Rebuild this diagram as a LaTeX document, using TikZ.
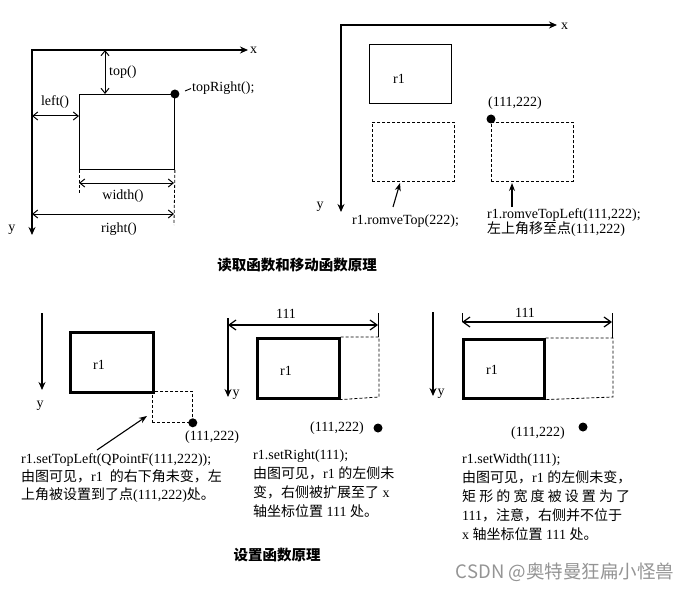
\documentclass[tikz,border=0pt]{standalone}
\usepackage{fontspec}
\setmainfont{Liberation Serif}
\newfontfamily\cjk{Noto Sans CJK SC}
\usetikzlibrary{arrows.meta}
\newcommand\zh[1]{{\cjk #1}}
\begin{document}
\begin{tikzpicture}[x=1pt,y=-1pt,
  axis/.style={line width=1.3pt,-{Stealth[length=8pt,width=7pt]}},
  axis2/.style={line width=1.3pt,{Stealth[length=8pt,width=7pt]}-{Stealth[length=8pt,width=7pt]}},
  dimA/.style={line width=1pt,{Straight Barb[length=5pt,width=8pt]}-{Straight Barb[length=5pt,width=8pt]}},
  dimB/.style={line width=1.2pt,{Straight Barb[length=7pt,width=10pt]}-{Straight Barb[length=7pt,width=10pt]}},
  ptr/.style={line width=1.1pt,-{Stealth[length=8pt,width=6pt]}},
  thin/.style={line width=0.9pt},
  dsh/.style={line width=0.8pt,dash pattern=on 3pt off 2pt},
  box/.style={draw,line width=0.9pt,inner sep=0pt,anchor=north west},
  tbox/.style={draw,line width=2.6pt,inner sep=0pt,anchor=north west},
  dbox/.style={draw,dsh,inner sep=0pt,anchor=north west},
  lbl/.style={font=\fontsize{14}{18}\selectfont,inner sep=0pt},
  para/.style={lbl,align=left,anchor=north west},
  head/.style={font=\fontsize{14.5}{18}\selectfont\bfseries\cjk,inner sep=0pt},
  dot/.style={circle,fill,inner sep=0pt,minimum size=9pt}]
\useasboundingbox (0,0) rectangle (698,591);

% ---------- panel 1 ----------
\coordinate (o1) at (32,50);
\coordinate (x1) at (248,50);
\coordinate (y1) at (32,235);
\draw[axis2,line join=miter] (x1) -- (o1) -- (y1);
\node[lbl,anchor=west] (xl1) at (250,50) {x};
\node[lbl] (yl1) at (12,230) {y};
\node[box,minimum width=95pt,minimum height=75pt] (rA) at (79,94) {};
\coordinate (t1) at (105,50);
\coordinate (t2) at (105,94);
\draw[dimA] (t1) -- (t2);
\node[lbl,anchor=west] (topl) at (109,72) {top()};
\node[dot] (dA) at (rA.north east) {};
\coordinate (ld1) at (185,91);
\coordinate (ld2) at (191,88.5);
\draw[thin] (ld1) -- (ld2);
\node[lbl,anchor=west] (trl) at (192,88) {topRight();};
\coordinate (l1) at (32,116);
\coordinate (l2) at (79,116);
\draw[dimA] (l1) -- (l2);
\node[lbl] (leftl) at (55,102) {left()};
\coordinate (w0) at (79,193);
\coordinate (w3) at (174,225);
\draw[dsh] (rA.south west) -- (w0);
\draw[dsh] (rA.south east) -- (w3);
\coordinate (w1) at (79,183);
\coordinate (w2) at (174,183);
\draw[dimA] (w1) -- (w2);
\node[lbl] (widthl) at (123,196) {width()};
\coordinate (g1) at (32,214);
\coordinate (g2) at (174,214);
\draw[dimA] (g1) -- (g2);
\node[lbl] (rightl) at (119,229) {right()};

% ---------- panel 2 ----------
\coordinate (o2) at (341,25);
\coordinate (x2) at (557,25);
\coordinate (y2) at (341,212);
\draw[axis2,line join=miter] (x2) -- (o2) -- (y2);
\node[lbl,anchor=west] (xl2) at (561,26) {x};
\node[lbl] (yl2) at (320,207) {y};
\node[box,minimum width=82pt,minimum height=59pt] (rB) at (369,44) {};
\node[lbl] (rBl) at (399,79) {r1};
\node[dbox,minimum width=82pt,minimum height=59pt] (dB1) at (372,122) {};
\node[dbox,minimum width=82pt,minimum height=59pt] (dB2) at (491,122) {};
\coordinate (p1) at (393,207);
\coordinate (p2) at (400,183);
\draw[ptr] (p1) -- (p2);
\node[lbl,anchor=west] (mt) at (352,221) {r1.romveTop(222);};
\node[dot] (dB) at ([yshift=3pt]dB2.north west) {};
\node[lbl] (ptl) at (515,103) {(111,222)};
\coordinate (q1) at (512,207);
\coordinate (q2) at (512,183);
\draw[ptr] (q1) -- (q2);
\node[para,font=\fontsize{14}{15}\selectfont] (mtl) at (487,208) {r1.romveTopLeft(111,222);\\\zh{左上角移至点}(111,222)};

\node[head] (h1) at (297,265) {读取函数和移动函数原理};

% ---------- panel 3 ----------
\coordinate (ya3) at (42,313);
\coordinate (yb3) at (42,390);
\draw[axis] (ya3) -- (yb3);
\node[lbl] (yl3) at (40,406) {y};
\node[tbox,minimum width=83pt,minimum height=60pt] (rC) at (69,331) {};
\node[lbl] (rCl) at (99,365) {r1};
\node[dbox,minimum width=40pt,minimum height=31pt] (dC) at (152,391) {};
\node[dot] (dCd) at (dC.south east) {};
\node[lbl,anchor=west] (pCl) at (185,437) {(111,222)};
\coordinate (c1) at (97,450);
\coordinate (c2) at (147,416);
\draw[ptr] (c1) -- (c2);
\node[para] (tC) at (21,453) {r1.setTopLeft(QPointF(111,222));\\\zh{由图可见，}r1 \ \zh{的右下角未变，左}\\\zh{上角被设置到了点}(111,222)\zh{处。}};

% ---------- panel 4 ----------
\coordinate (ya4) at (228,318);
\coordinate (yb4) at (228,397);
\draw[axis] (ya4) -- (yb4);
\node[lbl] (yl4) at (236,395) {y};
\coordinate (m1) at (228,325);
\coordinate (m2) at (378,325);
\draw[dimB] (m1) -- (m2);
\coordinate (k1) at (378,313);
\coordinate (k2) at (378,337);
\draw[thin] (k1) -- (k2);
\node[lbl] (n4) at (286,314) {111};
\node[tbox,minimum width=82pt,minimum height=60pt] (rD) at (256,337) {};
\node[lbl] (rDl) at (286,371) {r1};
\coordinate (e1) at (379,337);
\coordinate (e2) at (379,397);
\draw[dsh] (rD.north east) -- (e1) -- (e2) -- (rD.south east);
\node[lbl] (pDl) at (337,428) {(111,222)};
\node[dot] (dD) at (378,428) {};
\node[para,font=\fontsize{14}{19}\selectfont] (tD) at (253,450) {r1.setRight(111);\\\zh{由图可见，}r1 \zh{的左侧未}\\\zh{变，右侧被扩展至了} x\\\zh{轴坐标位置} 111 \zh{处。}};

% ---------- panel 5 ----------
\coordinate (ya5) at (433,312);
\coordinate (yb5) at (433,396);
\draw[axis] (ya5) -- (yb5);
\node[lbl] (yl5) at (441,394) {y};
\coordinate (s1) at (462,322);
\coordinate (s2) at (612,322);
\draw[dimB] (s1) -- (s2);
\coordinate (u1) at (462,313);
\coordinate (u2) at (612,313);
\coordinate (u3) at (612,338);
\draw[thin] (u1) -- (s1);
\draw[thin] (u2) -- (u3);
\node[lbl] (n5) at (525,313) {111};
\node[tbox,minimum width=81pt,minimum height=59pt] (rE) at (462,338) {};
\node[lbl] (rEl) at (492,370) {r1};
\coordinate (f1) at (613,338);
\coordinate (f2) at (613,397);
\draw[dsh] (rE.north east) -- (f1) -- (f2) -- (rE.south east);
\node[lbl] (pEl) at (538,433) {(111,222)};
\node[dot] (dE) at (583,427) {};
\node[para,font=\fontsize{14}{19}\selectfont] (tE) at (462,454) {r1.setWidth(111);\\\zh{由图可见，}r1 \zh{的左侧未变，}\\\makebox[168pt][s]{\cjk 矩\hfill 形\hfill 的\hfill 宽\hfill 度\hfill 被\hfill 设\hfill 置\hfill 为\hfill 了}\\111\zh{，注意，右侧并不位于}\\x \zh{轴坐标位置} 111 \zh{处。}};

\node[head] (h2) at (277,555) {设置函数原理};

\node[font=\fontsize{18.5}{20}\selectfont\cjk,text=black!42,inner sep=0pt] (wm) at (565,572) {CSDN @奥特曼狂扁小怪兽};
\end{tikzpicture}
\end{document}
